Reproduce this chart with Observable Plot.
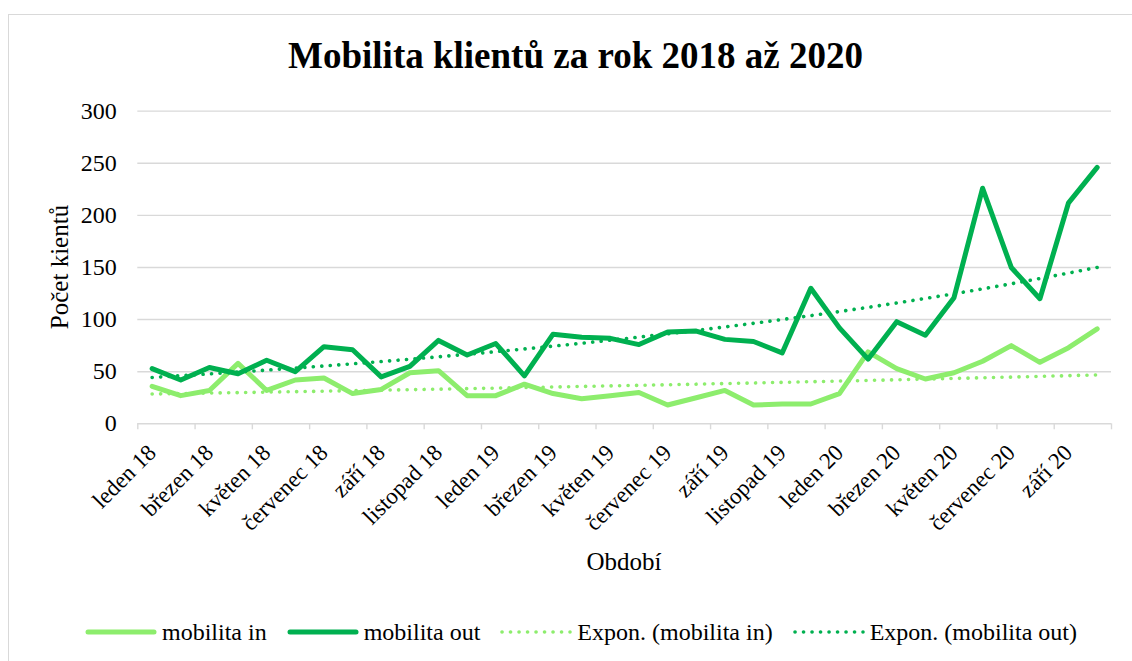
<!DOCTYPE html>
<html>
<head>
<meta charset="utf-8">
<script src="https://cdn.jsdelivr.net/npm/d3@7"></script>
<script src="https://cdn.jsdelivr.net/npm/@observablehq/plot@0.6"></script>
<style>
  html, body { margin: 0; padding: 0; background: #fff; }
  #wrap { position: relative; width: 1132px; height: 661px; overflow: hidden; font-family: "Liberation Serif", "Times New Roman", serif; color: #000; }
  #border { position: absolute; left: 8px; top: 14px; width: 1200px; height: 700px; border-left: 1.5px solid #d9d9d9; border-top: 1.5px solid #d9d9d9; box-sizing: border-box; }
  #chart { position: absolute; left: 0; top: 0; }
  #title { position: absolute; left: 0; width: 1151px; top: 34px; text-align: center; font-weight: bold; font-size: 37px; line-height: 44px; white-space: nowrap; }
  #ytitle { position: absolute; left: 60px; top: 267px; transform: translate(-50%, -50%) rotate(-90deg); font-size: 25px; white-space: nowrap; line-height: 28px; }
  #xtitle { position: absolute; left: 624px; top: 548px; transform: translateX(-50%); font-size: 25px; white-space: nowrap; line-height: 28px; }
  #legend { position: absolute; left: 85px; top: 618px; display: flex; align-items: center; font-size: 24px; line-height: 28px; white-space: nowrap; }
  .item { display: flex; align-items: center; margin-right: 20px; }
  .item svg { margin-right: 5px; }
</style>
</head>
<body>
<div id="wrap">
  <div id="border"></div>
  <div id="chart"></div>
  <div id="title">Mobilita klientů za rok 2018 až 2020</div>
  <div id="ytitle">Počet kientů</div>
  <div id="xtitle">Období</div>
  <div id="legend"></div>
</div>
<script>
// ---- data ----
const months = [
  "leden 18","únor 18","březen 18","duben 18","květen 18","červen 18","červenec 18","srpen 18","září 18","říjen 18","listopad 18","prosinec 18",
  "leden 19","únor 19","březen 19","duben 19","květen 19","červen 19","červenec 19","srpen 19","září 19","říjen 19","listopad 19","prosinec 19",
  "leden 20","únor 20","březen 20","duben 20","květen 20","červen 20","červenec 20","srpen 20","září 20","říjen 20"
];
const mobilitaIn  = [36, 27, 32, 58, 32, 42, 44, 29, 33, 49, 51, 27, 27, 38, 29, 24, 27, 30, 18, 25, 32, 18, 19, 19, 29, 69, 53, 43, 49, 60, 75, 59, 73, 91];
const mobilitaOut = [53, 42, 54, 48, 61, 50, 74, 71, 45, 55, 80, 66, 77, 46, 86, 83, 82, 76, 88, 89, 81, 79, 68, 130, 92, 62, 98, 85, 121, 226, 150, 120, 212, 246];
const yTicks = [0, 50, 100, 150, 200, 250, 300];

const seriesNames = ["mobilita in", "mobilita out", "Expon. (mobilita in)", "Expon. (mobilita out)"];
const colorIn = "#8DED6D";
const colorOut = "#00B050";

// Excel-style exponential trendline: least squares on ln(y) against x = 1..n
function expTrend(vals) {
  const n = vals.length;
  const xs = vals.map((_, i) => i + 1);
  const ly = vals.map(v => Math.log(v));
  const mx = d3.mean(xs), my = d3.mean(ly);
  let sxy = 0, sxx = 0;
  for (let i = 0; i < n; i++) { sxy += (xs[i] - mx) * (ly[i] - my); sxx += (xs[i] - mx) ** 2; }
  const b = sxy / sxx, a = my - b * mx;
  return xs.map(x => Math.exp(a + b * x));
}

const rows = (vals) => vals.map((v, i) => ({i, month: months[i], v}));
const inRows = rows(mobilitaIn);
const outRows = rows(mobilitaOut);
const inTrend = rows(expTrend(mobilitaIn));
const outTrend = rows(expTrend(mobilitaOut));

const boundaries = d3.range(0, months.length + 1, 2).map(k => k - 0.5);
const labelIdx = months.map((m, i) => i).filter(i => i % 2 === 0);

const plot = Plot.plot({
  width: 1132,
  height: 661,
  marginLeft: 137.3,
  marginRight: 21,
  marginTop: 110.6,
  marginBottom: 237.7,
  style: { fontFamily: "Liberation Serif, Times New Roman, serif", background: "transparent", color: "#000", overflow: "visible" },
  x: { type: "linear", domain: [-0.5, months.length - 0.5], axis: null },
  y: { domain: [0, 300], axis: null },
  marks: [
    Plot.gridY(yTicks, { stroke: "#d9d9d9", strokeOpacity: 1, strokeWidth: 1.4 }),
    Plot.axisY({ ticks: yTicks, tickSize: 0, tickPadding: 21, fontSize: 24, fill: "#000", label: null }),
    Plot.axisX({ ticks: boundaries, tickSize: 6, tickFormat: () => "", stroke: "#d9d9d9", strokeWidth: 1.4, label: null }),
    Plot.text(labelIdx, {
      x: d => d, frameAnchor: "bottom", text: d => months[d],
      rotate: -45, textAnchor: "end", lineAnchor: "middle",
      dx: 0, dy: 25, fontSize: 23, fill: "#000"
    }),
    Plot.line(inRows, { x: "i", y: "v", stroke: colorIn, strokeWidth: 5, strokeLinejoin: "round", strokeLinecap: "round" }),
    Plot.line(outRows, { x: "i", y: "v", stroke: colorOut, strokeWidth: 5, strokeLinejoin: "round", strokeLinecap: "round" }),
    Plot.line(inTrend, { x: "i", y: "v", stroke: colorIn, strokeWidth: 3.6, strokeDasharray: "0.1 8.4", strokeLinecap: "round" }),
    Plot.line(outTrend, { x: "i", y: "v", stroke: colorOut, strokeWidth: 3.6, strokeDasharray: "0.1 8.4", strokeLinecap: "round" })
  ]
});
document.getElementById("chart").appendChild(plot);

// legend
const legendSpecs = [
  { name: seriesNames[0], color: colorIn, dotted: false },
  { name: seriesNames[1], color: colorOut, dotted: false },
  { name: seriesNames[2], color: colorIn, dotted: true },
  { name: seriesNames[3], color: colorOut, dotted: true }
];
const legend = d3.select("#legend");
legendSpecs.forEach(s => {
  const it = legend.append("div").attr("class", "item");
  const sv = it.append("svg").attr("width", 72).attr("height", 12);
  sv.append("line").attr("x1", s.dotted ? 2 : 3).attr("x2", s.dotted ? 70 : 69).attr("y1", 6).attr("y2", 6)
    .attr("stroke", s.color).attr("stroke-width", s.dotted ? 3.6 : 5)
    .attr("stroke-linecap", "round")
    .attr("stroke-dasharray", s.dotted ? "0.1 8.4" : null);
  it.append("span").text(s.name);
});
</script>
</body>
</html>
